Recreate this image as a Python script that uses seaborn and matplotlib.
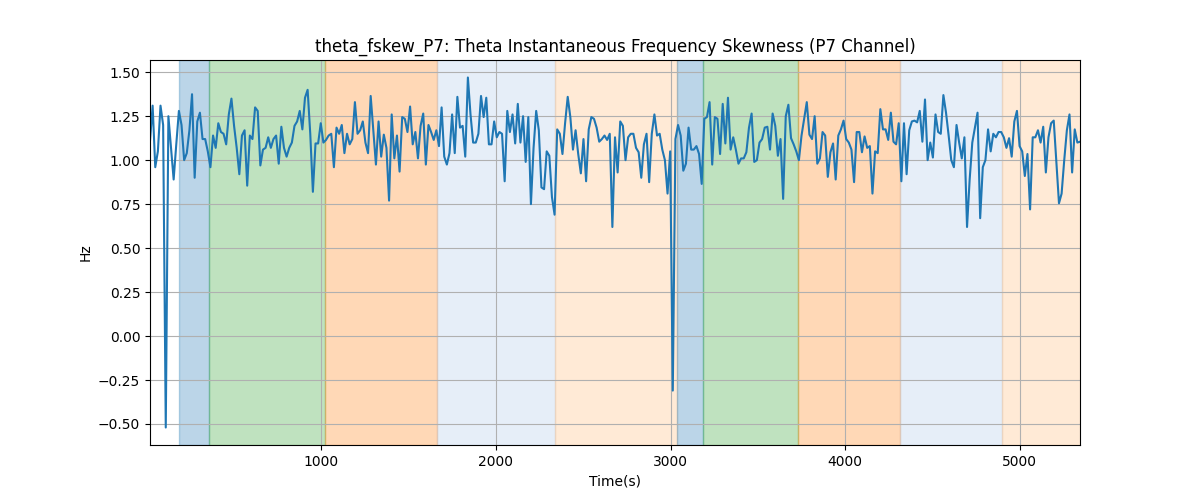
import matplotlib
matplotlib.use("Agg")
import matplotlib.pyplot as plt
import seaborn as sns
import numpy as np
import pandas as pd

# sample values (Hz), one every ~15 s, split by section of the recording
seg1 = [1.11, 1.31, 0.96, 1.05, 1.31, 1.20, -0.52, 1.25, 1.07, 0.89,
        1.09, 1.28, 1.20, 1.00, 1.04, 1.17, 1.375, 0.90, 1.22, 1.27,
        1.12, 1.12, 1.05, 0.96, 1.14, 1.07, 1.21, 1.16, 1.15, 1.09,
        1.26, 1.35, 1.195, 1.07, 0.92, 1.14, 1.17, 0.855, 1.14, 1.12,
        1.30, 1.28, 0.97, 1.06, 1.07, 1.13, 1.07, 1.12, 1.14, 0.98,
        1.19, 1.07, 1.02, 1.07, 1.10, 1.195, 1.22, 1.28, 1.175, 1.355,
        1.40]
seg2 = [1.15, 0.82, 1.095, 1.095, 1.21, 1.10, 1.115, 1.14, 1.15, 0.96,
        1.185, 1.15, 1.20, 1.04, 1.15, 1.09, 1.12, 1.33, 1.15, 1.17,
        1.22, 1.10, 1.04, 1.365, 1.17, 0.975, 1.22, 1.02, 1.145, 1.07,
        0.77, 1.26, 1.01, 1.14, 0.935, 1.245, 1.235, 1.16, 1.305, 1.09,
        1.16, 1.01, 1.195, 1.265, 0.975, 1.20, 1.16, 1.115, 1.17, 1.08,
        1.30, 1.02, 0.975, 1.04, 1.26, 1.04, 1.36, 1.185, 1.195]
seg3 = [1.02, 1.47, 1.26, 1.10, 1.10, 1.15, 1.365, 1.245, 1.355, 1.09,
        1.09, 1.22, 1.13, 1.16, 1.15, 0.88, 1.28, 1.16, 1.26, 1.095,
        1.32, 1.10, 1.25, 0.99, 1.245, 0.75, 1.07, 1.28, 1.17, 0.845,
        0.835, 1.05, 1.025, 0.79, 0.69, 1.175, 1.15, 1.035, 1.21, 1.36,
        1.245, 1.06, 1.17, 1.035, 0.925, 1.12, 0.88, 1.175, 1.245, 1.235,
        1.185, 1.105, 1.12, 1.14, 1.115, 1.15, 0.62, 1.13, 0.93]
seg4 = [1.22, 1.195, 1.00, 1.13, 1.15, 1.15, 1.07, 1.045, 0.90, 1.09,
        1.15, 0.875, 1.15, 1.26, 1.14, 1.15, 1.06, 1.00, 0.81, 1.05,
        -0.31, 1.12, 1.20, 1.14, 0.94, 0.98, 1.185, 1.06, 1.06, 1.08,
        1.035, 0.865, 1.235, 1.245, 1.33, 0.975, 1.245, 1.235, 1.035, 1.32,
        1.095, 1.355, 1.06, 1.13, 1.06, 0.98, 1.01, 1.01, 1.045, 1.185,
        1.265, 0.99, 1.00, 1.10, 1.12, 1.185, 1.19, 1.06, 1.265]
seg5 = [1.195, 1.025, 1.12, 0.78, 1.25, 1.315, 1.125, 1.09, 1.05, 1.00,
        1.14, 1.235, 1.33, 1.145, 1.12, 1.25, 0.98, 1.01, 1.16, 1.14,
        0.905, 1.045, 1.095, 0.89, 1.14, 1.175, 1.225, 1.12, 1.10, 1.06,
        0.875, 1.16, 1.16, 1.045, 1.135, 1.07, 1.08, 0.81, 1.05, 1.04,
        1.29, 1.175, 1.175, 1.115, 1.27, 1.105, 1.09, 1.21, 0.88, 1.21,
        0.92, 1.17, 1.22, 1.225, 1.215, 1.28, 1.105, 1.345, 1.00]
seg6 = [1.10, 1.015, 1.26, 1.16, 1.15, 1.37, 1.27, 1.14, 1.00, 0.96,
        1.20, 1.10, 1.01, 1.13, 0.62, 0.89, 1.10, 1.185, 1.27, 0.67,
        0.96, 1.00, 1.175, 1.05, 1.15, 1.13, 1.16, 1.16, 1.13, 1.07,
        1.125, 1.02, 1.22, 1.28, 1.08, 1.05, 0.91, 1.035, 0.72, 1.13,
        1.13, 1.17, 1.10, 1.19, 0.93, 1.13, 1.21, 1.225, 0.99, 0.755,
        0.81, 1.00, 1.17, 1.26, 0.93, 1.175, 1.10, 1.105]

t_start = 20
t_step = 15.04

# shaded stage intervals (s)
span_start = [187, 358, 1023, 1663, 2340, 3039, 3188, 3732, 4311, 4895]
span_end = [358, 1023, 1663, 2340, 3039, 3188, 3732, 4311, 4895, 5350]
span_color = ["tab:blue", "tab:green", "tab:orange", "#aec7e8", "#ffbb78",
              "tab:blue", "tab:green", "tab:orange", "#aec7e8", "#ffbb78"]

values = seg1 + seg2 + seg3 + seg4 + seg5 + seg6
df = pd.DataFrame({
    "time": t_start + t_step * np.arange(len(values)),
    "hz": values,
})

fig, ax = plt.subplots(figsize=(12, 5))
for s, e, c in zip(span_start, span_end, span_color):
    ax.axvspan(s, e, color=c, alpha=0.3)

sns.lineplot(data=df, x="time", y="hz", ax=ax, color="tab:blue", linewidth=1.5)
ax.set_xlim(df["time"].min(), df["time"].max())
ax.grid(True)
ax.set_title("theta_fskew_P7: Theta Instantaneous Frequency Skewness (P7 Channel)")
ax.set_xlabel("Time(s)")
ax.set_ylabel("Hz")

plt.savefig("out.png", dpi=100)
plt.close()
